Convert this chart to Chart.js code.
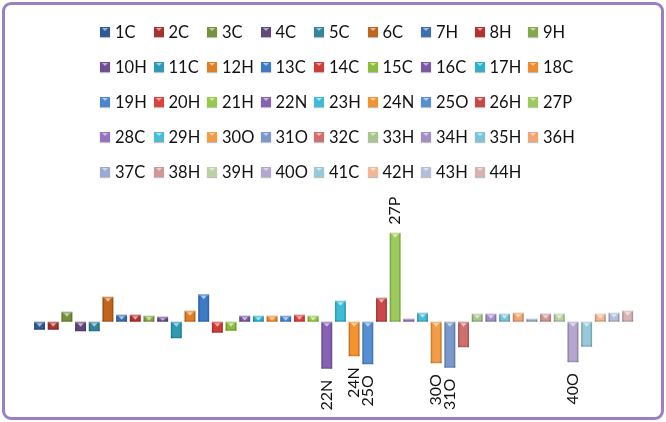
<!DOCTYPE html>
<html>
<head>
<meta charset="utf-8">
<script src="https://cdn.jsdelivr.net/npm/chart.js@4.4.0/dist/chart.umd.min.js"></script>
<style>
  html, body { margin: 0; padding: 0; background: #fff; }
  #wrap { position: relative; width: 666px; height: 422px; overflow: hidden; }
  #frame {
    position: absolute; left: 2px; top: 2px; width: 656px; height: 412px;
    border: 3px solid #9a80c2; border-radius: 9px; pointer-events: none;
  }
  #grafica { position: absolute; left: 0; top: 0; }
  #leyenda {
    position: absolute; left: 100px; top: 14.5px;
    display: grid; grid-template-columns: repeat(9, 53.5px); grid-auto-rows: 34.9px;
    font-family: Lato, "Liberation Sans", sans-serif; font-size: 16.5px; color: #111;
  }
  .item { display: flex; align-items: center; white-space: nowrap; }
  .caja {
    width: 10px; height: 10px; margin-right: 5px; position: relative;
    box-shadow: 0 1px 1px rgba(0,0,0,0.25);
  }
  .caja::after {
    content: ""; position: absolute; left: 2px; top: 1px;
    border-left: 3px solid transparent; border-right: 3px solid transparent;
    border-top: 3px solid rgba(255,255,255,0.55);
  }
</style>
</head>
<body>
<div id="wrap">
  <canvas id="grafica" width="666" height="422"></canvas>
  <div id="leyenda"></div>
  <div id="frame"></div>
</div>
<script>
// --- datos ---
const nombres = ['1C','2C','3C','4C','5C','6C','7H','8H','9H','10H','11C','12H','13C','14C','15C',
  '16C','17H','18C','19H','20H','21H','22N','23H','24N','25O','26H','27P','28C','29H','30O',
  '31O','32C','33H','34H','35H','36H','37C','38H','39H','40O','41C','42H','43H','44H'];
const valores = [-8, -8, 10, -9.5, -9.5, 25, 7, 7, 6, 5, -16.5, 11, 27.5, -11, -9,
  6, 6, 6, 6, 7, 6, -47, 21, -34.5, -42.5, 24, 89, 3, 9, -41.5,
  -46, -25.5, 8, 8, 8, 9, 3, 8, 8, -40.5, -25, 8, 9, 11];
const colores = ['#2e5b96','#a33431','#76923c','#5f497a','#31859c','#c0661c','#3b6fb0','#b5312e','#84a94a','#6e4f93',
  '#2e9ab5','#e07e26','#3d7bc6','#d03c38','#8cbd3c','#7b59a6','#2fb2ce','#ef8a2e','#4a86d0','#d9443f',
  '#98c84a','#8662b4','#3cbcd6','#f3932f','#5790d2','#c9494a','#9ccb5c','#9673c0','#4bbcd8','#f39c45',
  '#7a98cc','#cf6f6e','#a8c58e','#a38fc4','#7dc4d8','#f2a574','#9aaad2','#d39696','#bbd0a6','#b4a6cc',
  '#97cad9','#f2b894','#b3beda','#d9b3b3'];
// series que llevan etiqueta de dato
const etiquetadas = ['22N','24N','25O','27P','30O','31O','40O'];

const datasets = nombres.map((n, i) => ({
  label: n,
  data: nombres.map((_, j) => (j === i ? valores[i] : null)),
  backgroundColor: colores[i],
  borderWidth: 0
}));

// bisel tipo Excel sobre cada barra
const bisel = {
  id: 'bisel',
  afterDatasetsDraw(chart) {
    const ctx = chart.ctx;
    chart.data.datasets.forEach((ds, i) => {
      chart.getDatasetMeta(i).data.forEach((bar, j) => {
        if (ds.data[j] === null) return;
        const w = bar.width, l = bar.x - w / 2, r = bar.x + w / 2;
        const top = Math.min(bar.y, bar.base), bot = Math.max(bar.y, bar.base);
        const h = bot - top;
        ctx.save();
        ctx.fillStyle = 'rgba(0,0,0,0.18)';
        ctx.fillRect(l, top, 1.5, h);
        ctx.fillRect(r - 1.5, top, 1.5, h);
        ctx.fillStyle = 'rgba(0,0,0,0.12)';
        ctx.fillRect(l, bot - 1.5, w, 1.5);
        ctx.fillStyle = 'rgba(255,255,255,0.3)';
        ctx.fillRect(l, top, w, Math.min(1.5, h));
        if (h > 4) {
          ctx.fillStyle = 'rgba(255,255,255,0.6)';
          ctx.beginPath();
          ctx.moveTo(bar.x - 3, top + 1.5);
          ctx.lineTo(bar.x + 3, top + 1.5);
          ctx.lineTo(bar.x, top + Math.min(5, h - 1));
          ctx.closePath();
          ctx.fill();
        }
        ctx.restore();
      });
    });
  }
};

// etiquetas verticales en el extremo de la barra
const etiquetas = {
  id: 'etiquetas',
  afterDatasetsDraw(chart) {
    const ctx = chart.ctx;
    ctx.save();
    ctx.font = '16px Lato, "Liberation Sans", sans-serif';
    ctx.fillStyle = '#111';
    ctx.textBaseline = 'middle';
    etiquetadas.forEach(n => {
      const i = nombres.indexOf(n);
      const bar = chart.getDatasetMeta(i).data[i];
      const neg = valores[i] < 0;
      ctx.save();
      ctx.translate(bar.x, neg ? bar.y + 11 : bar.y - 8);
      ctx.rotate(-Math.PI / 2);
      ctx.textAlign = neg ? 'right' : 'left';
      ctx.fillText(n, 0, 0);
      ctx.restore();
    });
    ctx.restore();
  }
};

const chart = new Chart(document.getElementById('grafica'), {
  type: 'bar',
  data: { labels: nombres, datasets },
  options: {
    responsive: false,
    animation: false,
    layout: { padding: { left: 32.7, right: 31.5, top: 221.7, bottom: 10.3 } },
    datasets: { bar: { barPercentage: 0.8, categoryPercentage: 1.0, skipNull: true } },
    scales: {
      x: { stacked: true, display: false },
      y: { stacked: true, display: false, min: -90, max: 100 }
    },
    plugins: { legend: { display: false }, tooltip: { enabled: false } }
  },
  plugins: [bisel, etiquetas]
});

// leyenda HTML en rejilla de 9 columnas
const leyenda = document.getElementById('leyenda');
nombres.forEach((n, i) => {
  const item = document.createElement('div');
  item.className = 'item';
  const caja = document.createElement('span');
  caja.className = 'caja';
  caja.style.background = colores[i];
  item.appendChild(caja);
  item.appendChild(document.createTextNode(n));
  leyenda.appendChild(item);
});
</script>
</body>
</html>
